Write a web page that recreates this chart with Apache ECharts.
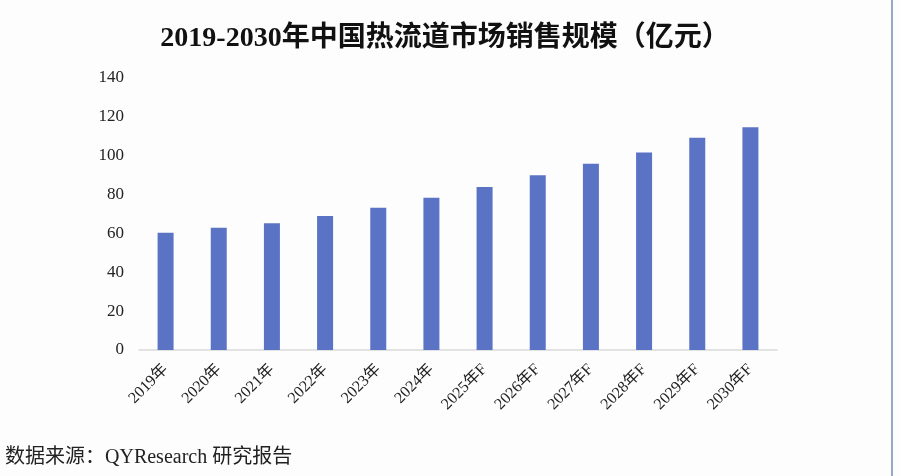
<!DOCTYPE html>
<html>
<head>
<meta charset="utf-8">
<script src="https://cdn.jsdelivr.net/npm/echarts@6/dist/echarts.min.js"></script>
<style>
html,body{margin:0;padding:0;background:#fdfdfd;}
#c{width:900px;height:476px;}
</style>
</head>
<body>
<div id="c"></div>
<script>
var categories = ['2019年','2020年','2021年','2022年','2023年','2024年','2025年F','2026年F','2027年F','2028年F','2029年F','2030年F'];
var values = [60.4, 62.9, 65.2, 69.0, 73.2, 78.3, 83.9, 90.0, 95.8, 101.7, 109.3, 114.6];
var yTicks = [0, 20, 40, 60, 80, 100, 120, 140];

var serif = '"Liberation Serif", "Times New Roman", "Noto Sans CJK SC", serif';
var chart = echarts.init(document.getElementById('c'), null, {renderer: 'canvas'});
chart.setOption({
  backgroundColor: '#fdfdfd',
  animation: false,
  title: {
    text: '2019-2030年中国热流道市场销售规模（亿元）',
    left: 440,
    top: 20,
    textAlign: 'center',
    textStyle: {fontFamily: serif, fontWeight: 'bold', fontSize: 28, color: '#111'}
  },
  grid: {left: 139, right: 123, top: 78, bottom: 126},
  xAxis: {
    type: 'category',
    data: categories,
    axisLine: {lineStyle: {color: '#d9d9d9', width: 1.5}},
    axisTick: {show: false},
    axisLabel: {rotate: 45, fontFamily: serif, fontSize: 16, color: '#222', margin: 17, interval: 0}
  },
  yAxis: {
    type: 'value',
    min: yTicks[0],
    max: yTicks[yTicks.length - 1],
    interval: 20,
    axisLine: {show: false},
    axisTick: {show: false},
    splitLine: {show: false},
    axisLabel: {fontFamily: serif, fontSize: 17, color: '#222', margin: 15}
  },
  series: [{
    type: 'bar',
    data: values,
    barWidth: 16,
    itemStyle: {color: '#5b73c4'}
  }],
  graphic: [
    {type: 'text', left: 5, top: 448, style: {text: '数据来源：QYResearch 研究报告', font: '20px ' + serif, fill: '#222'}},
    {type: 'rect', shape: {x: 891, y: 0, width: 2, height: 476}, style: {fill: '#9aa8cc'}}
  ]
});
</script>
</body>
</html>
